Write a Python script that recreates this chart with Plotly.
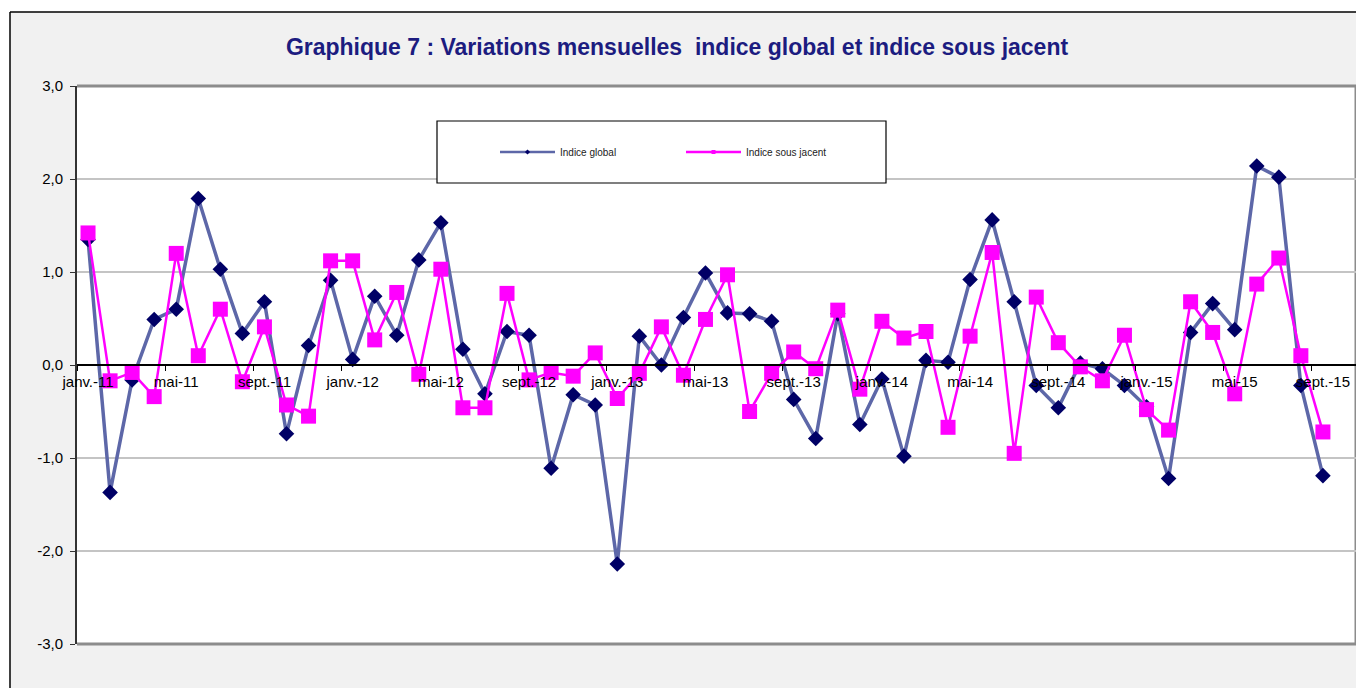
import plotly.graph_objects as go

month_names = ["janv.", "févr.", "mars", "avr.", "mai", "juin",
               "juil.", "août", "sept.", "oct.", "nov.", "déc."]
years = ["11", "12", "13", "14", "15"]
categories = [f"{m}-{y}" for y in years for m in month_names][:58]  # janv.-11 .. oct.-15 (last slot empty)

indice_global = [1.35, -1.37, -0.16, 0.49, 0.60, 1.79, 1.03, 0.34, 0.68, -0.74,
                 0.21, 0.91, 0.06, 0.74, 0.32, 1.13, 1.53, 0.17, -0.31, 0.36,
                 0.32, -1.11, -0.32, -0.43, -2.14, 0.31, 0.00, 0.51, 0.99, 0.56,
                 0.55, 0.47, -0.37, -0.79, 0.55, -0.64, -0.15, -0.98, 0.05, 0.03,
                 0.92, 1.56, 0.68, -0.22, -0.46, 0.02, -0.04, -0.22, -0.45, -1.22,
                 0.35, 0.66, 0.38, 2.14, 2.02, -0.22, -1.19]
indice_sous_jacent = [1.42, -0.17, -0.08, -0.34, 1.20, 0.10, 0.60, -0.18, 0.41, -0.43,
                      -0.55, 1.12, 1.12, 0.27, 0.78, -0.10, 1.03, -0.46, -0.46, 0.77,
                      -0.16, -0.08, -0.12, 0.13, -0.36, -0.09, 0.41, -0.11, 0.49, 0.97,
                      -0.50, -0.09, 0.14, -0.04, 0.59, -0.26, 0.47, 0.29, 0.36, -0.67,
                      0.31, 1.21, -0.95, 0.73, 0.24, -0.02, -0.17, 0.32, -0.48, -0.70,
                      0.68, 0.35, -0.31, 0.87, 1.15, 0.10, -0.72]

y_tick_values = [-3, -2, -1, 0, 1, 2, 3]
y_tick_labels = ["-3,0", "-2,0", "-1,0", "0,0", "1,0", "2,0", "3,0"]

title_text = "Graphique 7 : Variations mensuelles  indice global et indice sous jacent"
series_names = ["Indice global", "Indice sous jacent"]

NAVY = "#000066"
NAVY_LINE = "#5d67a8"
MAGENTA = "#ff00ff"
FONT = "Liberation Sans, Arial, sans-serif"

fig = go.Figure()

fig.add_trace(go.Scatter(
    x=categories[:len(indice_global)], y=indice_global, mode="lines+markers",
    line=dict(color=NAVY_LINE, width=3.5),
    marker=dict(symbol="diamond", size=12, color=NAVY),
    showlegend=False, name=series_names[0]))
fig.add_trace(go.Scatter(
    x=categories[:len(indice_sous_jacent)], y=indice_sous_jacent, mode="lines+markers",
    line=dict(color=MAGENTA, width=2.5),
    marker=dict(symbol="square", size=15, color=MAGENTA),
    showlegend=False, name=series_names[1]))

# legend entries with small markers
fig.add_trace(go.Scatter(x=[None], y=[None], mode="lines+markers", name=series_names[0],
                         line=dict(color=NAVY_LINE, width=2.5),
                         marker=dict(symbol="diamond", size=4, color=NAVY)))
fig.add_trace(go.Scatter(x=[None], y=[None], mode="lines+markers", name=series_names[1],
                         line=dict(color=MAGENTA, width=2.5),
                         marker=dict(symbol="square", size=4, color=MAGENTA)))

OFF = 8  # page body margin
W, H = 1364 - OFF, 688 - OFF
L, R, T, B = 77 - OFF, 8, 86 - OFF, 44
pw, ph = W - L - R, H - T - B


def px(xp):
    """page x pixel -> paper fraction"""
    return (xp - OFF - L) / pw


def py(yp):
    """page y pixel -> paper fraction"""
    return (H - B - (yp - OFF)) / ph


shapes = [
    # white strips outside the chart frame
    dict(type="rect", xref="paper", yref="paper", x0=px(-5), x1=px(10), y0=py(H + 20), y1=py(-5),
         fillcolor="white", line=dict(width=0), layer="above"),
    dict(type="rect", xref="paper", yref="paper", x0=px(-5), x1=px(1400), y0=py(12), y1=py(-5),
         fillcolor="white", line=dict(width=0), layer="above"),
    # chart frame
    dict(type="line", xref="paper", yref="paper", x0=px(10), x1=px(1400), y0=py(12), y1=py(12),
         line=dict(color="black", width=1.5)),
    dict(type="line", xref="paper", yref="paper", x0=px(10), x1=px(10), y0=py(12), y1=py(720),
         line=dict(color="black", width=1.5)),
    # plot area border (top, right, bottom)
    dict(type="line", xref="paper", yref="paper", x0=0, x1=1, y0=1, y1=1,
         line=dict(color="#8c8c8c", width=3), layer="below"),
    dict(type="line", xref="paper", yref="paper", x0=1, x1=1, y0=0, y1=1,
         line=dict(color="#8c8c8c", width=3), layer="below"),
    dict(type="line", xref="paper", yref="paper", x0=0, x1=1, y0=0, y1=0,
         line=dict(color="#8c8c8c", width=3), layer="below"),
    # legend box
    dict(type="rect", xref="paper", yref="paper", x0=px(437), x1=px(886), y0=py(183), y1=py(121),
         fillcolor="white", line=dict(color="black", width=1.2), layer="above"),
]

fig.update_layout(
    width=W, height=H,
    margin=dict(l=L, r=R, t=T, b=B, autoexpand=False),
    paper_bgcolor="#f1f1f1",
    plot_bgcolor="white",
    font=dict(family=FONT, size=15, color="black"),
    title=dict(text=f"<b>{title_text}</b>", x=(677 - OFF) / W, xanchor="center",
               y=1 - (47 - OFF) / H, yanchor="middle", yref="container",
               font=dict(family=FONT, size=23, color="#1c1c80")),
    shapes=shapes,
    showlegend=True,
    legend=dict(orientation="h", x=px(495), xanchor="left", y=py(152), yanchor="middle",
                bgcolor="rgba(0,0,0,0)", borderwidth=0,
                font=dict(family=FONT, size=10, color="#222222"),
                entrywidth=116, entrywidthmode="pixels", itemwidth=55),
    xaxis=dict(
        type="category", categoryorder="array", categoryarray=categories,
        range=[-0.5, 57.5], anchor="free", position=0.5,
        showline=True, linecolor="black", linewidth=1.5,
        tickmode="linear", tick0=0, dtick=4, tickson="boundaries",
        ticks="outside", ticklen=5, tickcolor="black", tickangle=0,
        ticklabelstandoff=3,
        showgrid=False, zeroline=False, automargin=False,
        tickfont=dict(family=FONT, size=15, color="black"),
    ),
    yaxis=dict(
        range=[-3, 3], tickmode="array", tickvals=y_tick_values, ticktext=y_tick_labels,
        showline=True, linecolor="#333333", linewidth=2,
        ticks="outside", ticklen=5, tickcolor="#333333",
        ticklabelstandoff=4,
        showgrid=True, gridcolor="#c4c4c4", gridwidth=1.5,
        zeroline=False, automargin=False,
        tickfont=dict(family=FONT, size=15, color="black"),
    ),
)

fig.write_html("out.html")
